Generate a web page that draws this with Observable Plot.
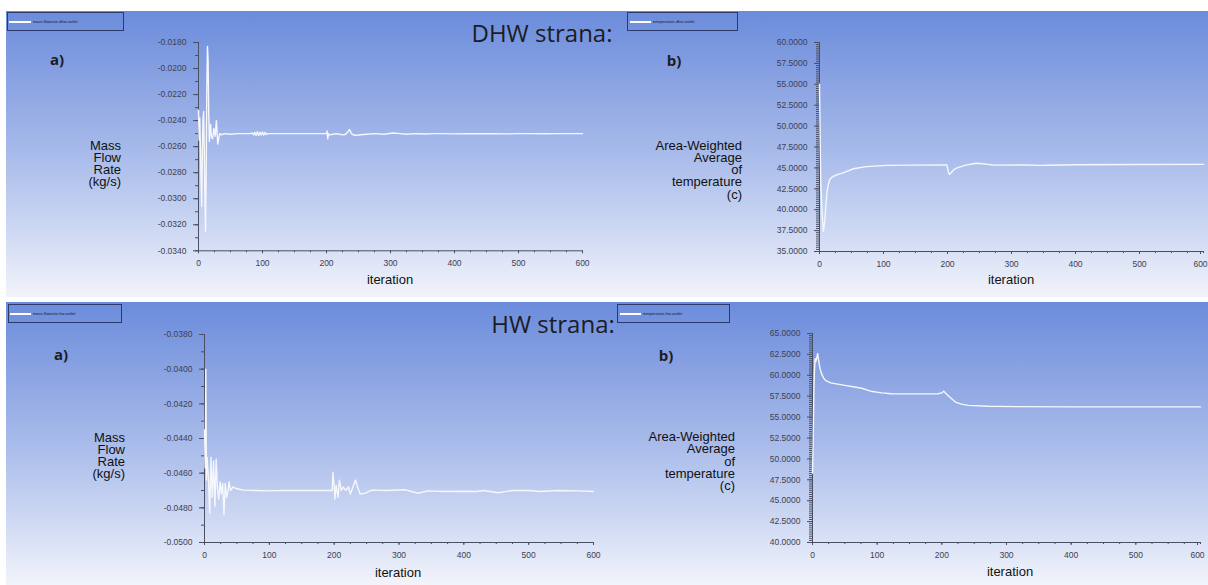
<!DOCTYPE html>
<html><head><meta charset="utf-8">
<script src="https://cdn.jsdelivr.net/npm/d3@7"></script>
<script src="https://cdn.jsdelivr.net/npm/@observablehq/plot@0.6"></script>
<style>
html,body{margin:0;padding:0;background:#fff;}
#root{position:relative;width:1208px;height:585px;overflow:hidden;background:#fff;font-family:"Liberation Sans",Arial,sans-serif;}
.panel{position:absolute;left:6px;width:1202px;background:linear-gradient(to bottom,#6b8cdc 0%,#8aa3e2 25%,#a8bbea 50%,#cbd6f2 75%,#f2f4fb 100%);}
.legend{position:absolute;border:1px solid #2b3a6b;box-sizing:border-box;}
.legend .ln{position:absolute;height:1.5px;background:#fff;}
.legend .tx{position:absolute;font-size:4px;color:#1a1a2a;white-space:nowrap;line-height:4px;}
.t{position:absolute;white-space:nowrap;transform:translate(-50%,-50%);}
.ylab{position:absolute;text-align:right;font-size:13px;line-height:12.3px;color:#111;white-space:pre;}
</style></head><body><div id="root"></div><script>
// ---------------- DATA ----------------
const panelTitles = ["DHW strana:", "HW strana:"];
const legendLabels = ["mass-flowrate-dhw-outlet", "temperature-dhw-outlet", "mass-flowrate-hw-outlet", "temperature-hw-outlet"];
const flowAxisTitle = ["Mass", "Flow", "Rate", "(kg/s)"];
const tempAxisTitle = ["Area-Weighted", "Average", "of", "temperature", "(c)"];
const xTitle = "iteration";
const xTicks = [0, 100, 200, 300, 400, 500, 600];

// a) DHW mass flow rate
const dhwFlowIter = [0,1,2,3,4,5,6,7,8,9,
 10,11,12,13,14,15,16,17,18,19,
 20,22,24,26,28,30,33,36,40,50,
 60,70,80,84,86,88,90,92,94,96,
 98,100,102,104,106,108,112,120,140,160,
 180,198,200,201,202,203,205,210,215,220,
 225,230,233,236,239,243,250,262,275,290,
 304,315,325,340,355,367,380,400,420,440,
 460,480,500,520,540,560,580,600];
const dhwFlowVal = [-0.0232,-0.0255,-0.0238,-0.0262,-0.0285,-0.0306,-0.0265,-0.0240,-0.0233,-0.0262,
 -0.0300,-0.0325,-0.0280,-0.0215,-0.0183,-0.0194,-0.0235,-0.0256,-0.0247,-0.0243,
 -0.0252,-0.0254,-0.0246,-0.0252,-0.0240,-0.0258,-0.0250,-0.0251,-0.0250,-0.02505,
 -0.0250,-0.0250,-0.0250,-0.02495,-0.0251,-0.0249,-0.02515,-0.02485,-0.02515,-0.0249,
 -0.0251,-0.02488,-0.02512,-0.0249,-0.02508,-0.0250,-0.0250,-0.0250,-0.0250,-0.0250,
 -0.0250,-0.0250,-0.0250,-0.0248,-0.0254,-0.0250,-0.0251,-0.02505,-0.0250,-0.02505,
 -0.0251,-0.02505,-0.0249,-0.02468,-0.0250,-0.02512,-0.0251,-0.02505,-0.0250,-0.02505,
 -0.02495,-0.0250,-0.02505,-0.0250,-0.02503,-0.0250,-0.0250,-0.02502,-0.0250,-0.02501,
 -0.0250,-0.02502,-0.0250,-0.0250,-0.02501,-0.0250,-0.0250,-0.0250];
const dhwFlowTicks = [-0.034,-0.032,-0.030,-0.028,-0.026,-0.024,-0.022,-0.020,-0.018];

// b) DHW temperature
const dhwTempIter = [0,1,2,4,6,8,10,12,15,18,
 22,28,37,53,73,104,150,199,201,203,
 206,210,215,227,245,255,263,270,290,324,
 345,360,400,500,600];
const dhwTempVal = [55.0,49.0,43.1,39.5,37.4,38.5,40.5,42.3,43.4,43.8,
 44.0,44.2,44.4,44.9,45.15,45.3,45.33,45.35,44.6,44.2,
 44.45,44.8,45.0,45.3,45.55,45.5,45.42,45.35,45.33,45.35,
 45.3,45.32,45.38,45.4,45.42];
const dhwTempTicks = [35,37.5,40,42.5,45,47.5,50,52.5,55,57.5,60];

// a) HW mass flow rate
const hwFlowIter = [0,1,2,3,4,6,8,10,12,14,
 16,18,20,22,24,26,28,30,32,34,
 36,38,40,44,50,60,80,100,120,140,
 160,180,197,198,200,201,203,206,208,211,
 214,218,222,225,228,233,236,240,248,258,
 280,310,329,345,370,400,420,430,453,475,
 500,518,545,575,600];
const hwFlowVal = [-0.0435,-0.0457,-0.0400,-0.0464,-0.0451,-0.0462,-0.0483,-0.0451,-0.0474,-0.0453,
 -0.0479,-0.0452,-0.0469,-0.0475,-0.0465,-0.0472,-0.0466,-0.0484,-0.0466,-0.0474,
 -0.0471,-0.0465,-0.0470,-0.0468,-0.0469,-0.04698,-0.0470,-0.04702,-0.0470,-0.0470,
 -0.0470,-0.0470,-0.0470,-0.04595,-0.0467,-0.0475,-0.0467,-0.0474,-0.0464,-0.0470,
 -0.0468,-0.0470,-0.0468,-0.0472,-0.0469,-0.0464,-0.0468,-0.0472,-0.04715,-0.04698,
 -0.0470,-0.04696,-0.04716,-0.04702,-0.04706,-0.04704,-0.04706,-0.0470,-0.04713,-0.0470,
 -0.0470,-0.04706,-0.0470,-0.04702,-0.04706];
const hwFlowTicks = [-0.050,-0.048,-0.046,-0.044,-0.042,-0.040,-0.038];

// b) HW temperature
const hwTempIter = [0,1,2,3,4,5,6,8,10,12,
 14,17,20,28,50,65,76,90,107,122,
 160,194,200,203,206,212,221,230,241,272,
 312,400,600];
const hwTempVal = [48.3,52.0,57.8,60.5,62.0,61.6,61.9,62.6,61.5,60.7,
 60.2,59.7,59.4,59.1,58.8,58.6,58.45,58.1,57.9,57.8,
 57.78,57.8,57.9,58.1,57.85,57.4,56.8,56.55,56.4,56.3,
 56.25,56.22,56.22];
const hwTempTicks = [40,42.5,45,47.5,50,52.5,55,57.5,60,62.5,65];

// ---------------- DRAWING ----------------
const root = document.getElementById("root");
function el(tag, cls, style, text) {
  const e = document.createElement(tag);
  if (cls) e.className = cls;
  Object.assign(e.style, style || {});
  if (text != null) e.textContent = text;
  root.appendChild(e);
  return e;
}
el("div", "panel", {top: "11px", height: "286px"});
el("div", "panel", {top: "302px", height: "283px"});

function legend(x, y, w, h, label, lx0, lx1, tx) {
  const b = el("div", "legend", {left: x + "px", top: y + "px", width: w + "px", height: h + "px"});
  const ln = document.createElement("div"); ln.className = "ln";
  Object.assign(ln.style, {left: (lx0 - x) + "px", width: (lx1 - lx0) + "px", top: (h / 2 - 1.5) + "px"});
  b.appendChild(ln);
  const t = document.createElement("div"); t.className = "tx"; t.textContent = label;
  Object.assign(t.style, {left: (tx - x) + "px", top: (h / 2 - 3) + "px"});
  b.appendChild(t);
}
legend(7, 12, 117, 19, legendLabels[0], 8, 30, 32);
legend(627, 12, 111, 19, legendLabels[1], 629, 650, 652);
legend(8, 304, 114, 19, legendLabels[2], 9, 30, 32);
legend(617, 304, 113, 19, legendLabels[3], 619, 640, 642);

const titleFont = {font: "24px 'Open Sans', sans-serif", color: "#1c1c22"};
el("div", "t", Object.assign({left: "542px", top: "32px"}, titleFont), panelTitles[0]);
el("div", "t", Object.assign({left: "553px", top: "323px"}, titleFont), panelTitles[1]);

const lblFont = {font: "700 15px 'Open Sans', sans-serif", color: "#1c1c22"};
el("div", "t", Object.assign({left: "57px", top: "59px"}, lblFont), "a)");
el("div", "t", Object.assign({left: "674px", top: "60px"}, lblFont), "b)");
el("div", "t", Object.assign({left: "61px", top: "354px"}, lblFont), "a)");
el("div", "t", Object.assign({left: "666px", top: "355px"}, lblFont), "b)");

function ylab(lines, rightX, top) {
  el("div", "ylab", {right: (1208 - rightX) + "px", top: top + "px"}, lines.join("\n"));
}
ylab(flowAxisTitle, 121, 139.5);
ylab(tempAxisTitle, 742, 139.5);
ylab(flowAxisTitle, 125, 431.5);
ylab(tempAxisTitle, 735, 431);

const xFont = {font: "13px 'Liberation Sans', Arial, sans-serif", color: "#111"};
el("div", "t", Object.assign({left: "390px", top: "279px"}, xFont), xTitle);
el("div", "t", Object.assign({left: "1011px", top: "279px"}, xFont), xTitle);
el("div", "t", Object.assign({left: "398px", top: "572px"}, xFont), xTitle);
el("div", "t", Object.assign({left: "1010px", top: "571px"}, xFont), xTitle);

const axisColor = "#4a4f63";
const labelColor = "#3d4152";
const M = {l: 80, r: 24, t: 8, b: 24};

function chart(iters, vals, yTicks, minorStep, rect, nudgeLast) {
  const data = iters.map((i, k) => ({i, v: vals[k]}));
  const yDomain = [yTicks[0], yTicks[yTicks.length - 1]];
  const w = rect.x1 - rect.x0 + M.l + M.r;
  const h = rect.y1 - rect.y0 + M.t + M.b;
  const yMinor = d3.range(yDomain[0], yDomain[1] + minorStep / 2, minorStep);
  const xMinor = d3.range(0, 601, 25);
  const mainX = nudgeLast ? xTicks.slice(0, -1) : xTicks;
  const lastX = nudgeLast ? xTicks.slice(-1) : [];
  const svg = Plot.plot({
    width: w, height: h,
    marginLeft: M.l, marginRight: M.r, marginTop: M.t, marginBottom: M.b,
    style: {background: "transparent", fontFamily: "'Liberation Sans', Arial, sans-serif", fontSize: "8.5px", overflow: "visible"},
    x: {domain: [0, 600], axis: null},
    y: {domain: yDomain, axis: null},
    marks: [
      Plot.axisY(yMinor, {tickSize: 3, tickFormat: () => "", stroke: axisColor, label: null}),
      Plot.axisY(yTicks, {tickSize: 5, tickPadding: 7, tickFormat: d => d.toFixed(4), stroke: axisColor, fill: labelColor, fontSize: 8.5, label: null}),
      Plot.axisX(xMinor, {tickSize: 2, tickFormat: () => "", stroke: axisColor, label: null}),
      Plot.axisX(mainX, {tickSize: 3, tickPadding: 6, tickFormat: d => String(d), stroke: axisColor, fill: labelColor, fontSize: 8.5, label: null}),
      Plot.axisX(lastX, {tickSize: 3, tickPadding: 6, tickFormat: d => String(d), stroke: axisColor, fill: labelColor, fontSize: 8.5, label: null, dx: -3}),
      Plot.ruleX([0], {stroke: axisColor}),
      Plot.ruleY([yDomain[0]], {stroke: axisColor}),
      Plot.line(data, {x: "i", y: "v", stroke: "#f5f7fd", strokeWidth: 1.4})
    ]
  });
  Object.assign(svg.style, {position: "absolute", left: (rect.x0 - M.l) + "px", top: (rect.y0 - M.t) + "px"});
  root.appendChild(svg);
}

chart(dhwFlowIter, dhwFlowVal, dhwFlowTicks, 0.001, {x0: 198, x1: 582, y0: 41.7, y1: 250}, false);
chart(dhwTempIter, dhwTempVal, dhwTempTicks, 0.25, {x0: 819, x1: 1203, y0: 42, y1: 251}, true);
chart(hwFlowIter, hwFlowVal, hwFlowTicks, 0.001, {x0: 204, x1: 593, y0: 334, y1: 542}, false);
chart(hwTempIter, hwTempVal, hwTempTicks, 0.25, {x0: 812, x1: 1200, y0: 333, y1: 542}, true);
</script></body></html>
